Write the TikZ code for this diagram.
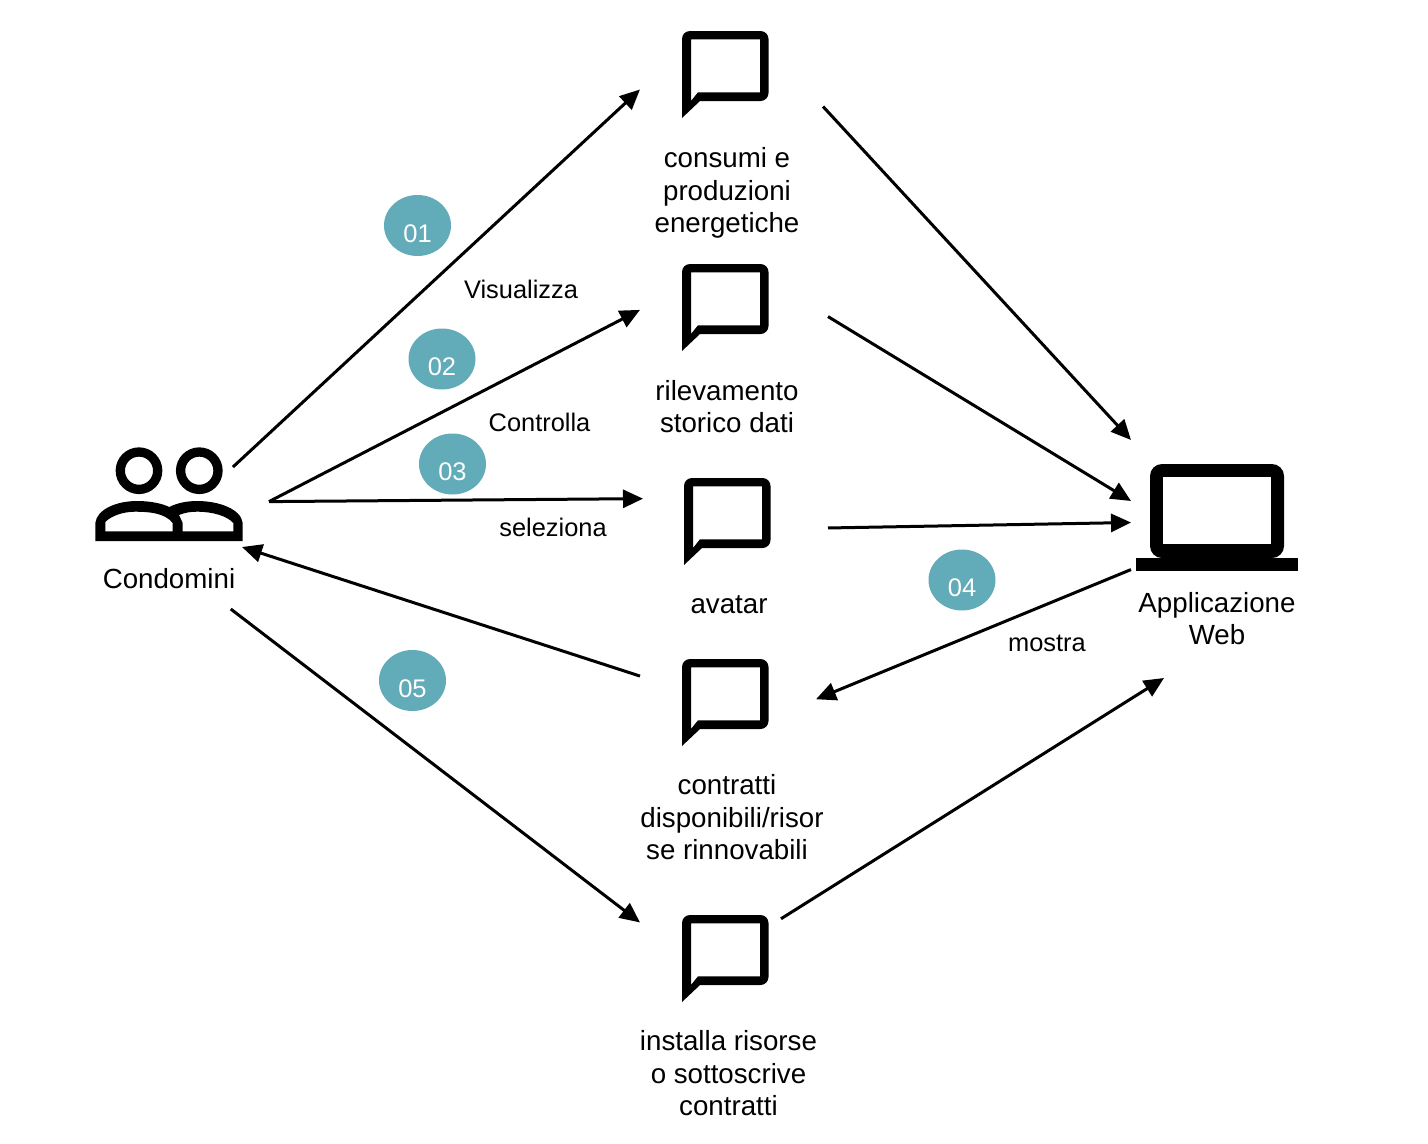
\documentclass[tikz,border=0pt]{standalone}
\usepackage{fontspec}
\setmainfont{Liberation Sans}
\usetikzlibrary{arrows.meta,shapes.geometric}
\definecolor{badge}{HTML}{62ABB8}
\tikzset{
  pics/talk/.style = {
    code = {%
      \fill[black, even odd rule]
        (0,87) [rounded corners=8pt] -- (0,0) -- (86.5,0) -- (86.5,70) -- (40,70) [sharp corners] -- (18,70) -- cycle
        (9,70) -- (9,8.3) -- (78,8.3) -- (78,61.3) -- (16,61.3) -- cycle;
    }
  },
  pics/laptop/.style = {
    code = {%
      \fill[black, even odd rule, rounded corners=12pt] (14,0) rectangle (148,94);
      \fill[white] (27.3,13.3) rectangle (134.7,80.3);
      \fill[black] (0,93.7) rectangle (161.7,107);
    }
  },
  pics/people/.style = {
    code = {%
      \draw[black, line width=9.3pt] (44,23.7) circle[radius=18.7] (104.3,23.7) circle[radius=18.7];
      \fill[black, even odd rule]
        (0.3,94) -- (0.3,76) .. controls (2,62) and (22,54) .. (42,54) .. controls (54,54) and (66,56) .. (74.3,60)
        .. controls (82,56) and (92,54) .. (102,54) .. controls (124,54) and (146,62) .. (147.7,76) -- (147.7,94) -- cycle
        (10.3,84.3) -- (10.3,75) .. controls (16,69) and (28,64.7) .. (40,64.7) .. controls (54,64.7) and (70,66) .. (77.7,76) -- (77.7,84.3) -- cycle
        (87.7,84.3) -- (87.7,76) -- (84,68) .. controls (90,65.5) and (96,64.7) .. (102,64.7) .. controls (118,64.7) and (132,69) .. (138.3,76) -- (138.3,84.3) -- cycle;
    }
  },
  slot/.style={shape=rectangle, inner sep=0pt, outer sep=0pt},
  word/.style={font=\fontsize{27.7}{32.5}\selectfont, align=center, inner sep=0pt},
  verb/.style={font=\fontsize{25.4}{30}\selectfont, inner sep=0pt},
  num/.style={shape=ellipse, fill=badge, text=white, minimum width=67pt, minimum height=61pt, inner sep=0pt, font=\fontsize{25.5}{30}\selectfont},
  flow/.style={-{Triangle[length=20pt,width=18pt]}, black, line width=3pt},
}
\newcommand{\low}[1]{\raisebox{-16.5pt}[0pt][0pt]{#1}}
\begin{document}
\begin{tikzpicture}[x=1pt,y=-1pt]
  \useasboundingbox (0,0) rectangle (1428,1144);

  \path
    (95,447) pic{people}
    (1136,464) pic{laptop}
    (682,31) pic{talk}
    (682,264) pic{talk}
    (684,478) pic{talk}
    (682,659) pic{talk}
    (682,915) pic{talk}
  ;

  \node[slot, minimum width=200pt, minimum height=142pt] (condo) at (169,538) {};
  \node[slot, minimum width=143pt, minimum height=100pt] (people) at (170.5,497) {};
  \node[slot, minimum width=172pt, minimum height=238pt] (web) at (1217,559) {};
  \node[slot, minimum width=183pt, minimum height=120pt] (b1) at (731.5,75) {};
  \node[slot, minimum width=188pt, minimum height=120pt] (b2) at (734,300) {};
  \node[slot, minimum width=185pt, minimum height=120pt] (b3) at (735.5,510) {};
  \node[slot, minimum width=176pt, minimum height=120pt] (b4) at (728,690) {};
  \node[slot, minimum width=141pt, minimum height=120pt] (b5) at (710.5,920) {};

  \node[word] (tcondo) at (169,579) {Condomini};
  \node[word] (tweb) at (1217,618.5) {Applicazione\\Web};
  \node[word] (t1) at (727,193) {consumi e\\produzioni\\energetiche};
  \node[word] (t2) at (727,406.5) {rilevamento\\storico dati};
  \node[word] (t3) at (729,604.5) {avatar};
  \node[word] (t4) at (727,817.5) {contratti\\\hspace*{10pt}disponibili/risor\\se rinnovabili};
  \node[word] (t5) at (728.5,1073.5) {installa risorse\\o sottoscrive\\contratti};

  \node[verb] (v1) at (521,289) {Visualizza};
  \node[verb] (v2) at (539.5,422) {Controlla};
  \node[verb] (v3) at (553,527) {seleziona};
  \node[verb] (v4) at (1047,643.5) {mostra};

  \node[num] (n1) at (417.5,225.5) {\low{01}};
  \node[num] (n2) at (442,359) {\low{02}};
  \node[num] (n3) at (452.5,464) {\low{03}};
  \node[num] (n4) at (962,580) {\low{04}};
  \node[num] (n5) at (412.5,680.5) {\low{05}};

  \draw[flow] (condo.48) -- (b1.189.4);
  \draw[flow] (condo.20) -- (b2.186.8);
  \draw[flow] (condo.20) -- (b3.173.7);
  \draw[flow] (b4.171.6) -- (people.south east);
  \draw[flow] (condo.-49.8) -- (b5.182.4);

  \draw[flow] (b1.-19.3) -- (web.north west);
  \draw[flow] (b2.-10.3) -- (web.146.2);
  \draw[flow] (b3.-11) -- (web.157.2);
  \draw[flow] (web.187.3) -- (b4.-6.48);
  \draw[flow] (b5.1.6) -- (web.246.4);
\end{tikzpicture}
\end{document}
